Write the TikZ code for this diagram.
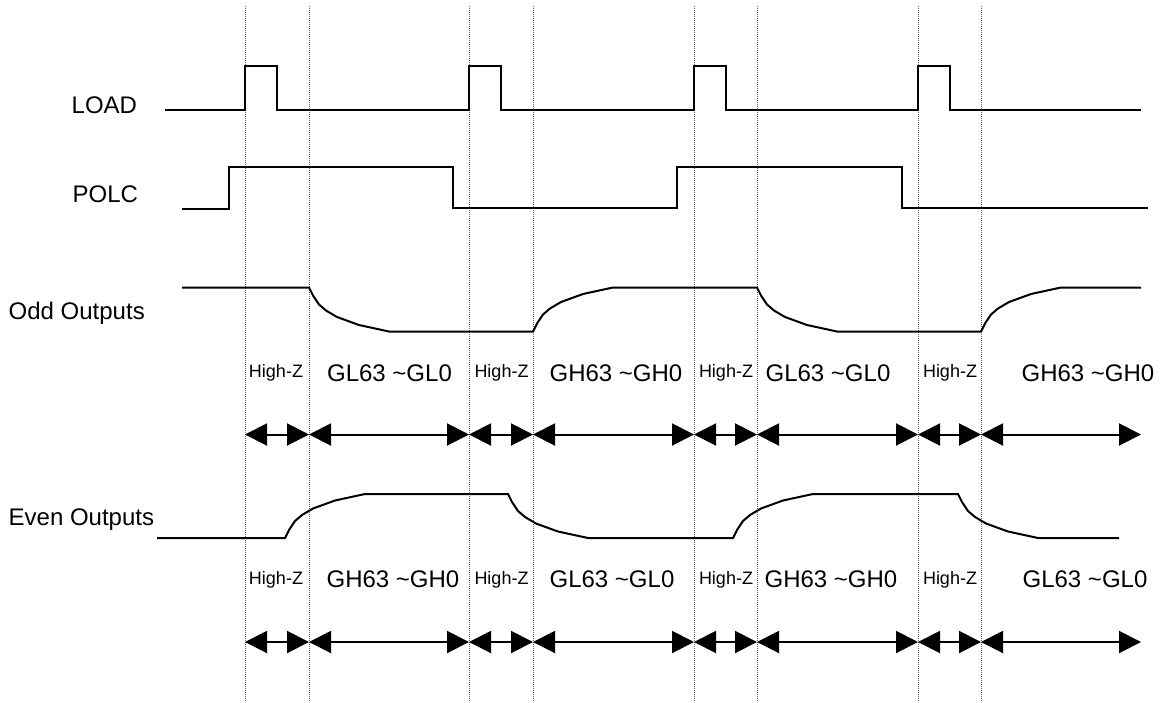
\documentclass[tikz,border=0pt]{standalone}
\usepackage{fontspec}
\setmainfont{Liberation Sans}
\usetikzlibrary{arrows.meta}
\begin{document}
\begin{tikzpicture}[x=1pt,y=-1pt,
  sig/.style={line width=2pt, line join=miter},
  gridline/.style={black!60, line width=0.9pt, dash pattern=on 1pt off 1pt},
  span/.style={line width=2pt, {Triangle[length=22pt,width=22pt]}-{Triangle[length=22pt,width=22pt]}},
  lbl/.style={font=\fontsize{24}{28}\selectfont, inner sep=0pt},
  hz/.style={font=\fontsize{18}{21}\selectfont, inner sep=0pt},
  dnslope/.style={insert path={-- ++(4,8) -- ++(6,9) -- ++(7,6) -- ++(11,6.5) -- ++(22,8) -- ++(30,6.5)}},
  upslope/.style={insert path={-- ++(4,-8) -- ++(6,-9) -- ++(7,-6) -- ++(11,-6.5) -- ++(22,-8) -- ++(30,-6.5)}}]
\useasboundingbox (0,0) rectangle (1165,702);

% time marks
\foreach \i/\x in {1/245,2/309,3/469,4/533,5/694,6/757,7/918,8/981,9/1141}{
  \coordinate (t\i) at (\x,6);
  \coordinate (b\i) at (\x,702);
  \coordinate (o\i) at (\x,434.5);
  \coordinate (e\i) at (\x,642);
}
\foreach \i in {1,...,8}{ \draw[gridline] (t\i) -- (b\i); }

% signal names
\node[lbl, anchor=west] (load) at (71.5,105) {LOAD};
\node[lbl, anchor=west] (polc) at (72.5,194) {POLC};
\node[lbl, anchor=west] (odd) at (8.5,313) {Odd Outputs};
\node[lbl, anchor=west] (even) at (8.5,520) {Even Outputs};

% LOAD
\draw[sig] (165,110) -- (245,110) -- (245,66) -- (277,66) -- (277,110)
  -- (469,110) -- (469,66) -- (501,66) -- (501,110)
  -- (694,110) -- (694,66) -- (726,66) -- (726,110)
  -- (918,110) -- (918,66) -- (950,66) -- (950,110) -- (1141,110);

% POLC
\draw[sig] (182,209) -- (229,209) -- (229,166.5) -- (453,166.5) -- (453,208)
  -- (677,208) -- (677,166.5) -- (902,166.5) -- (902,208) -- (1148,208);

% Odd outputs
\draw[sig] (182,287.5) -- (309,287.5) [dnslope] -- (533,331.5) [upslope]
  -- (757,287.5) [dnslope] -- (981,331.5) [upslope] -- (1141,287.5);

% Even outputs
\draw[sig] (157,538) -- (285,538) [upslope] -- (508,494) [dnslope]
  -- (733,538) [upslope] -- (958,494) [dnslope] -- (1119,538);

% Odd labels
\node[hz] (oz1) at (276,373) {High-Z};
\node[lbl] (ol1) at (389.5,373) {GL63 \char`\~GL0};
\node[hz] (oz2) at (501.5,373) {High-Z};
\node[lbl] (ol2) at (616,373) {GH63 \char`\~GH0};
\node[hz] (oz3) at (726,373) {High-Z};
\node[lbl] (ol3) at (828,373) {GL63 \char`\~GL0};
\node[hz] (oz4) at (950,373) {High-Z};
\node[lbl] (ol4) at (1088,373) {GH63 \char`\~GH0};

% Even labels
\node[hz] (ez1) at (276,580) {High-Z};
\node[lbl] (el1) at (393,579) {GH63 \char`\~GH0};
\node[hz] (ez2) at (501.5,580) {High-Z};
\node[lbl] (el2) at (612,579) {GL63 \char`\~GL0};
\node[hz] (ez3) at (726,580) {High-Z};
\node[lbl] (el3) at (831,579) {GH63 \char`\~GH0};
\node[hz] (ez4) at (950,580) {High-Z};
\node[lbl] (el4) at (1085,579) {GL63 \char`\~GL0};

% spans
\foreach \a/\b in {1/2,2/3,3/4,4/5,5/6,6/7,7/8,8/9}{
  \draw[span] (o\a) -- (o\b);
  \draw[span] (e\a) -- (e\b);
}
\end{tikzpicture}
\end{document}
